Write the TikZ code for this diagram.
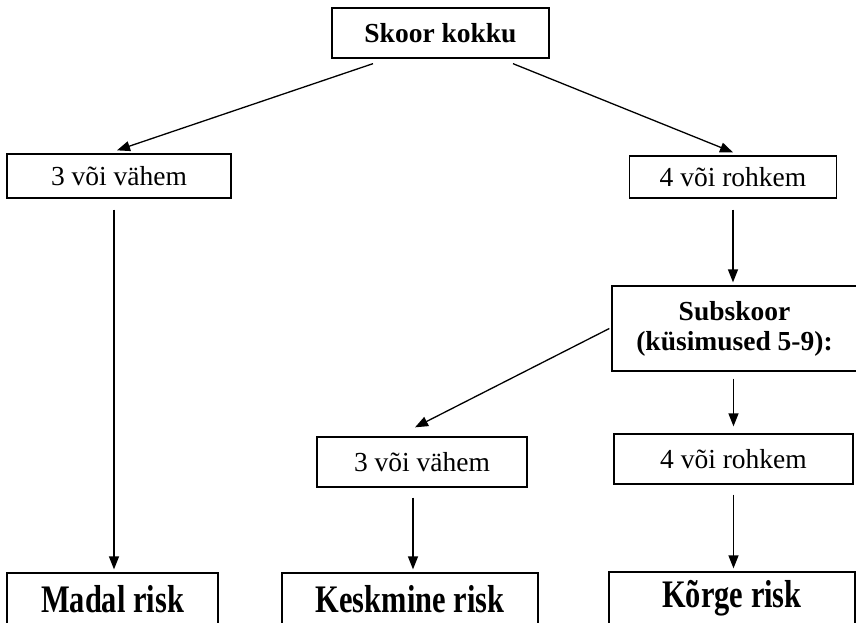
\documentclass[tikz,border=0pt]{standalone}
\usepackage{fontspec}
\setmainfont{Liberation Serif}
\usetikzlibrary{arrows.meta}
\tikzset{
  box/.style={draw, line width=1.3pt, inner sep=0pt, align=center, font=\fontsize{27.5}{30}\selectfont},
  bbox/.style={box, font=\fontsize{27.5}{30}\selectfont\bfseries},
  arr/.style={line width=1.3pt, -{Triangle[length=13pt,width=10pt]}},
}
\newcommand{\bigtxt}[1]{\scalebox{0.78}[1]{\fontsize{39}{39}\selectfont\bfseries #1}}
\begin{document}
\begin{tikzpicture}[x=1pt,y=-1pt]
\useasboundingbox (0,0) rectangle (856,623);
\clip (0,0) rectangle (856,623);
\node[bbox, minimum width=217pt, minimum height=50pt] (top) at (440.5,33) {Skoor kokku};
\node[box, minimum width=224pt, minimum height=44pt] (L1) at (119,176) {3 või vähem};
\node[box, minimum width=207pt, minimum height=42pt] (R1) at (733,177) {4 või rohkem};
\node[bbox, minimum width=245pt, minimum height=85pt] (Sub) at (734.5,328.5) {Subskoor\\(küsimused 5-9):};
\node[box, minimum width=210pt, minimum height=50pt] (M2) at (422,462) {3 või vähem};
\node[box, minimum width=239pt, minimum height=50pt] (R2) at (733.5,459) {4 või rohkem};
\node[box, minimum width=211pt, minimum height=52pt] (Madal) at (112.5,599) {\bigtxt{Madal risk}};
\node[box, minimum width=256pt, minimum height=52pt] (Kesk) at (410,599) {\bigtxt{Keskmine risk}};
\node[box, minimum width=246pt, minimum height=53pt] (Korge) at (732,598.5) {\bigtxt{Kõrge risk}};
\coordinate (c1) at ([yshift=-11pt]R1.south);
\coordinate (c2) at ([yshift=-7pt]Sub.south -| R2.north);
\coordinate (c3) at ([xshift=-5pt,yshift=-11pt]L1.south);
\coordinate (c4) at ([xshift=-9pt,yshift=-10pt]M2.south);
\coordinate (c5) at ([yshift=-10pt]R2.south);
\draw[arr] ([xshift=-67.5pt,yshift=-5pt]top.south) -- ([xshift=-2pt,yshift=3pt]L1.north);
\draw[arr] ([xshift=72.5pt,yshift=-5pt]top.south) -- ([yshift=3pt]R1.north);
\draw[arr] (c1) -- ([yshift=3pt]Sub.north -| c1);
\draw[arr] ([xshift=-2pt]Sub.west) -- ([xshift=-7pt,yshift=9pt]M2.north);
\draw[arr] (c2) -- ([yshift=7pt]R2.north);
\draw[arr] (c3) -- ([yshift=3pt]Madal.north -| c3);
\draw[arr] (c4) -- ([yshift=3pt]Kesk.north -| c4);
\draw[arr] (c5) -- ([yshift=3pt]Korge.north -| c5);
\end{tikzpicture}
\end{document}
